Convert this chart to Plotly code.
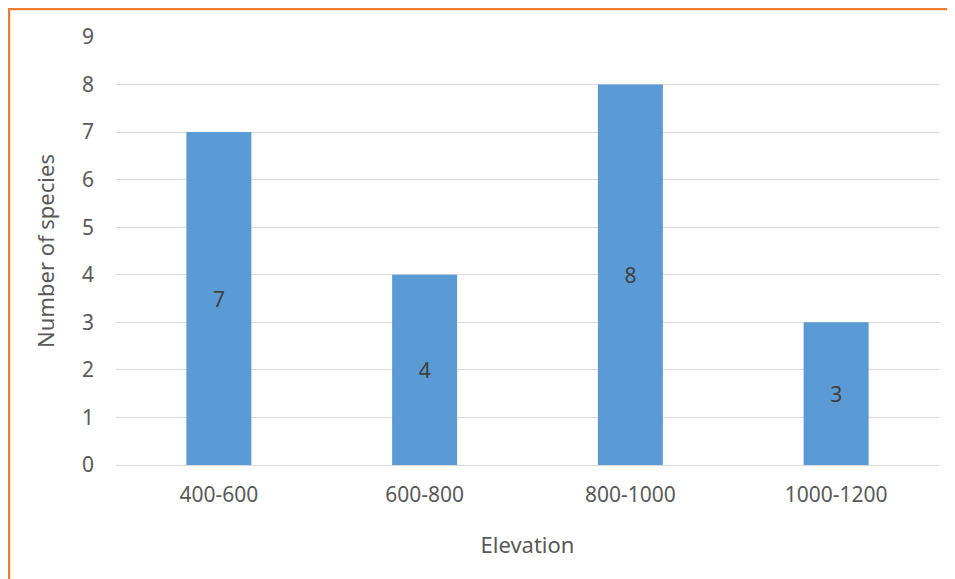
import plotly.graph_objects as go

categories = ["400-600", "600-800", "800-1000", "1000-1200"]
species = [7, 4, 8, 3]
y_ticks = [0, 1, 2, 3, 4, 5, 6, 7, 8, 9]

# the page body adds an 8px offset, so the figure is laid out in figure coords
OFF = 8
W, H = 955 - OFF, 579 - OFF
L, R, T, B = 116 - OFF, 955 - 939, 37 - OFF, 579 - 465
pw, ph = W - L - R, H - T - B

def px_x(x):
    return (x - L) / pw

def px_y(y):
    return (H - B - y) / ph

FONT = "Noto Sans"

fig = go.Figure(go.Bar(
    x=categories, y=species,
    marker=dict(color="#5B9BD5", line=dict(width=0)),
    text=[str(v) for v in species],
    textposition="inside", insidetextanchor="middle",
    textfont=dict(family=FONT, size=21, color="#404040"),
    width=0.316,
))

fig.update_layout(
    width=W, height=H,
    margin=dict(l=L, r=R, t=T, b=B),
    paper_bgcolor="white", plot_bgcolor="white",
    showlegend=False,
    font=dict(family=FONT, size=21, color="#595959"),
    xaxis=dict(
        showgrid=False, showline=True, linecolor="#D9D9D9", linewidth=1,
        ticks="", ticklabelstandoff=11,
        tickfont=dict(family=FONT, size=21, color="#595959"),
        title=dict(text="Elevation", standoff=30,
                   font=dict(family=FONT, size=22, color="#595959")),
    ),
    yaxis=dict(
        range=[0, 9], tickvals=y_ticks, showgrid=True, gridcolor="#D9D9D9", gridwidth=1,
        zeroline=True, zerolinecolor="#D9D9D9", zerolinewidth=1,
        ticks="", ticklabelstandoff=21,
        tickfont=dict(family=FONT, size=21, color="#595959"),
        title=dict(text="Number of species", standoff=21,
                   font=dict(family=FONT, size=22, color="#595959")),
    ),
    shapes=[
        dict(type="line", xref="paper", yref="paper",
             x0=px_x(0), x1=px_x(W + 5), y0=px_y(1), y1=px_y(1),
             line=dict(color="#ED7D31", width=2.5)),
        dict(type="line", xref="paper", yref="paper",
             x0=px_x(1), x1=px_x(1), y0=px_y(0), y1=px_y(H + 5),
             line=dict(color="#ED7D31", width=2.5)),
    ],
)

fig.write_html("out.html")
